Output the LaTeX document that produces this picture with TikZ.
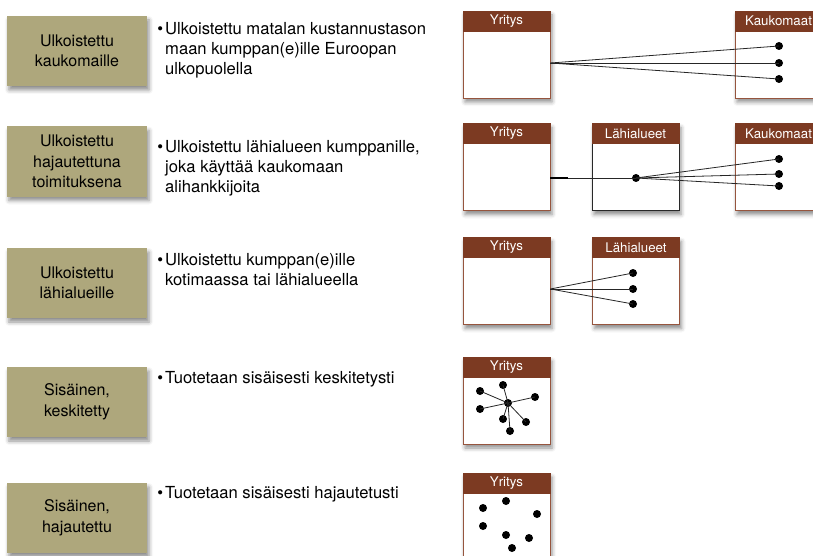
\documentclass[tikz,border=0pt]{standalone}
\usepackage{fontspec}
\setmainfont{TeX Gyre Heros}
\usetikzlibrary{shadows.blur}
\definecolor{oliveBox}{RGB}{174,167,124}
\definecolor{hdrBrown}{RGB}{124,58,34}
\definecolor{panelBorder}{RGB}{150,85,62}
\definecolor{darkBorder}{RGB}{40,40,40}
\tikzset{
  softshadow/.style={blur shadow={shadow xshift=2pt, shadow yshift=-4pt, shadow blur radius=4pt, shadow opacity=45}},
  catbox/.style={fill=oliveBox, minimum width=140pt, minimum height=70pt, inner sep=0pt, align=center,
    font=\fontsize{16}{20.5}\selectfont, softshadow},
  desc/.style={anchor=north west, align=left, inner sep=0pt, font=\fontsize{16.6}{19.8}\selectfont},
  panel/.style={draw=panelBorder, line width=0.8pt, fill=white, minimum width=87pt, minimum height=87pt, inner sep=0pt, softshadow},
  hdr/.style={draw=hdrBrown, fill=hdrBrown, text=white, minimum width=87pt, minimum height=20pt, inner sep=0pt,
    anchor=north, font=\fontsize{13.3}{13.3}\selectfont},
  dot/.style={circle, fill=black, minimum size=8pt, inner sep=0pt},
  link/.style={draw=black!85, line width=0.8pt}
}
\newcommand{\bul}{\llap{\textbullet\hspace{2pt}}}
\begin{document}
\begin{tikzpicture}[x=1pt,y=-1pt]
\useasboundingbox (0,0) rectangle (813,556);
\clip (0,0) rectangle (813,556);

% category boxes
\node[catbox] (c1) at (77,51) {Ulkoistettu\\kaukomaille};
\node[catbox] (c2) at (77,161.5) {Ulkoistettu\\hajautettuna\\toimituksena};
\node[catbox] (c3) at (77,283) {Ulkoistettu\\lähialueille};
\node[catbox] (c4) at (77,402) {Sisäinen,\\keskitetty};
\node[catbox] (c5) at (77,518) {Sisäinen,\\hajautettu};

% descriptions
\node[desc] (d1) at (165,22.5) {\bul Ulkoistettu matalan kustannustason\\maan kumppan(e)ille Euroopan\\ulkopuolella};
\node[desc] (d2) at (165,140.5) {\bul Ulkoistettu lähialueen kumppanille,\\joka käyttää kaukomaan\\alihankkijoita};
\node[desc] (d3) at (165,253.5) {\bul Ulkoistettu kumppan(e)ille\\kotimaassa tai lähialueella};
\node[desc] (d4) at (165,371.5) {\bul Tuotetaan sisäisesti keskitetysti};
\node[desc] (d5) at (165,486.5) {\bul Tuotetaan sisäisesti hajautetusti};

% row 1
\node[panel] (y1) at (506.5,54.5) {};
\node[hdr] (y1h) at (y1.north) {Yritys};
\node[panel] (k1) at (778.5,54.5) {};
\node[hdr] (k1h) at (k1.north) {Kaukomaat};
\node[dot] (k1a) at (779,46) {};
\node[dot] (k1b) at (779,63) {};
\node[dot] (k1c) at (779,79) {};
\draw[link] (y1.east |- k1b) -- (k1a.center);
\draw[link] (y1.east |- k1b) -- (k1b.center);
\draw[link] (y1.east |- k1b) -- (k1c.center);

% row 2
\node[panel] (y2) at (506.5,167) {};
\node[hdr] (y2h) at (y2.north) {Yritys};
\node[panel, draw=darkBorder] (l2) at (635.5,167) {};
\node[hdr] (l2h) at (l2.north) {Lähialueet};
\node[panel] (k2) at (778.5,167) {};
\node[hdr] (k2h) at (k2.north) {Kaukomaat};
\node[dot] (h2) at (636,178) {};
\node[dot] (k2a) at (779,159) {};
\node[dot] (k2b) at (779,174) {};
\node[dot] (k2c) at (779,186) {};
\draw[link] (y2.east |- h2) -- (h2.center);
\draw[line width=1.6pt] (y2.east |- h2) -- ++(18,0);
\draw[link] (h2.center) -- (k2a.center);
\draw[link] (h2.center) -- (k2b.center);
\draw[link] (h2.center) -- (k2c.center);

% row 3
\node[panel] (y3) at (506.5,281) {};
\node[hdr] (y3h) at (y3.north) {Yritys};
\node[panel] (l3) at (636,281) {};
\node[hdr] (l3h) at (l3.north) {Lähialueet};
\node[dot] (l3a) at (633,273) {};
\node[dot] (l3b) at (633,289) {};
\node[dot] (l3c) at (633,304) {};
\draw[link] (y3.east |- l3b) -- (l3a.center);
\draw[link] (y3.east |- l3b) -- (l3b.center);
\draw[link] (y3.east |- l3b) -- (l3c.center);

% row 4
\node[panel] (y4) at (506.5,400.5) {};
\node[hdr] (y4h) at (y4.north) {Yritys};
\node[dot] (hub) at (508,403) {};
\foreach \n/\p in {a/{(480,391)}, b/{(503,385)}, c/{(535,397)}, d/{(480,409)}, e/{(503,419)}, f/{(526,422)}, g/{(510,431)}}{
  \node[dot] (s\n) at \p {};
  \draw[link] (hub.center) -- (s\n.center);
}

% row 5
\node[panel] (y5) at (506.5,516.5) {};
\node[hdr] (y5h) at (y5.north) {Yritys};
\node[dot] (p1) at (483,508) {};
\node[dot] (p2) at (506,501) {};
\node[dot] (p3) at (537,514) {};
\node[dot] (p4) at (483,526) {};
\node[dot] (p5) at (506,535) {};
\node[dot] (p6) at (529,538) {};
\node[dot] (p7) at (512,548) {};
\end{tikzpicture}
\end{document}
